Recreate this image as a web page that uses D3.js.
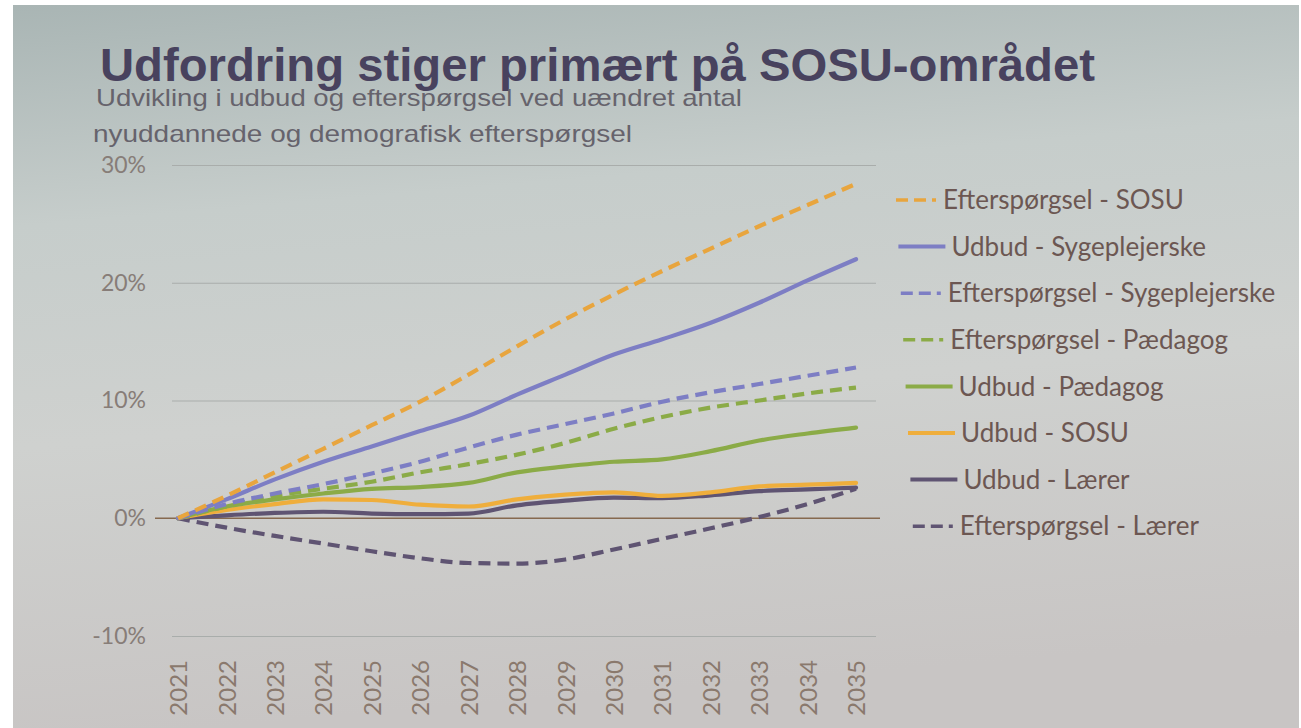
<!DOCTYPE html>
<html lang="da">
<head>
<meta charset="UTF-8">
<title>Udfordring stiger primært på SOSU-området</title>
<style>
  body { margin: 0; background: #fff; }
  .tick text { font-family: Lato, "DejaVu Sans", sans-serif; }
</style>
</head>
<body>
<script src="https://d3js.org/d3.v7.min.js"></script>
<div id="chart"></div>
<script>
  // values (percent change since 2021)
  var years = ["2021","2022","2023","2024","2025","2026","2027","2028","2029","2030","2031","2032","2033","2034","2035"]
  var yTicks = [-10, 0, 10, 20, 30]

  var eftSOSU = [0, 1.9, 3.9, 5.9, 7.9, 9.9, 12.2, 14.6, 16.9, 19.0, 21.0, 22.9, 24.8, 26.6, 28.4]
  var udbSyg  = [0, 1.6, 3.3, 4.8, 6.1, 7.4, 8.7, 10.5, 12.2, 13.9, 15.2, 16.6, 18.3, 20.2, 22.0]
  var eftSyg  = [0, 1.2, 2.1, 2.9, 3.8, 4.8, 6.0, 7.1, 8.0, 8.9, 9.9, 10.7, 11.4, 12.1, 12.8]
  var eftPaed = [0, 1.0, 1.9, 2.5, 3.1, 3.9, 4.6, 5.4, 6.4, 7.6, 8.6, 9.4, 10.0, 10.6, 11.1]
  var udbPaed = [0, 1.0, 1.6, 2.1, 2.5, 2.65, 3.0, 3.9, 4.4, 4.8, 5.0, 5.7, 6.6, 7.2, 7.7]
  var udbSOSU = [0, 0.7, 1.2, 1.6, 1.55, 1.15, 1.0, 1.6, 2.0, 2.2, 1.9, 2.2, 2.7, 2.85, 3.0]
  var udbLaer = [0, 0.25, 0.45, 0.55, 0.4, 0.35, 0.4, 1.1, 1.5, 1.75, 1.7, 1.95, 2.3, 2.45, 2.6]
  var eftLaer = [0, -0.8, -1.5, -2.15, -2.8, -3.4, -3.8, -3.85, -3.5, -2.65, -1.75, -0.85, 0.1, 1.2, 2.5]

  var names = ["Efterspørgsel - SOSU", "Udbud - Sygeplejerske", "Efterspørgsel - Sygeplejerske",
               "Efterspørgsel - Pædagog", "Udbud - Pædagog", "Udbud - SOSU", "Udbud - Lærer", "Efterspørgsel - Lærer"]
  var values = [eftSOSU, udbSyg, eftSyg, eftPaed, udbPaed, udbSOSU, udbLaer, eftLaer]
  var colors = ["#e8a53e", "#7d7ec4", "#7d7ec4", "#8bab47", "#8bab47", "#efae3c", "#5f5472", "#5f5472"]
  var dashed = [true, false, true, true, false, false, false, true]

  var width = 1301, height = 728
  var svg = d3.select("#chart").append("svg")
    .attr("width", width)
    .attr("height", height)

  // projected-slide background
  var grad = svg.append("defs").append("linearGradient")
    .attr("id", "bg").attr("x1", 0).attr("y1", 0).attr("x2", 0.15).attr("y2", 1)
  grad.append("stop").attr("offset", "0%").attr("stop-color", "#a9b5b4")
  grad.append("stop").attr("offset", "30%").attr("stop-color", "#c6cdcb")
  grad.append("stop").attr("offset", "60%").attr("stop-color", "#cfd1cf")
  grad.append("stop").attr("offset", "100%").attr("stop-color", "#c8c5c4")
  svg.append("rect")
    .attr("x", 13).attr("y", 5)
    .attr("width", width - 15).attr("height", height - 5)
    .attr("fill", "url(#bg)")

  var xScale = d3.scalePoint().domain(years).range([178, 856])
  var yScale = d3.scaleLinear().domain([-10, 30]).range([636, 165])

  // gridlines + y labels
  var yAxis = d3.axisLeft(yScale).tickValues(yTicks).tickSize(-(876 - 172)).tickPadding(26)
    .tickFormat(function(d){ return d + "%" })
  var gy = svg.append("g").attr("transform", "translate(172,0)").call(yAxis)
  gy.select(".domain").remove()
  gy.selectAll(".tick line")
    .attr("stroke", "#a9adab")
    .attr("stroke-width", 1.2)
    .attr("opacity", function(d){ return d == 0 ? 0 : 1 })
  gy.selectAll(".tick text")
    .attr("fill", "#877d78")
    .style("font-size", "23px")

  // x labels, vertical
  var xAxis = d3.axisBottom(xScale).tickSize(0)
  var gx = svg.append("g").attr("transform", "translate(0,650)").call(xAxis)
  gx.select(".domain").remove()
  gx.selectAll(".tick text")
    .attr("transform", "rotate(-90)")
    .attr("x", -10)
    .attr("y", 0)
    .attr("dy", "0.36em")
    .style("text-anchor", "end")
    .style("font-size", "24px")
    .attr("fill", "#8a796d")

  // zero line
  svg.append("line")
    .attr("x1", 155).attr("x2", 880)
    .attr("y1", yScale(0)).attr("y2", yScale(0))
    .attr("stroke", "#86694f")
    .attr("stroke-width", 1.6)

  var line = d3.line()
    .x(function(d, i){ return xScale(years[i]) })
    .y(function(d){ return yScale(d) })
    .curve(d3.curveMonotoneX)

  // draw bottom of legend first so the top entries sit on top
  for (var i = values.length - 1; i >= 0; i--) {
    svg.append("path")
      .attr("d", line(values[i]))
      .attr("fill", "none")
      .attr("stroke", colors[i])
      .attr("stroke-width", 4.2)
      .attr("stroke-linecap", dashed[i] ? "butt" : "round")
      .attr("stroke-dasharray", dashed[i] ? "12,7" : null)
  }

  // legend
  var legend = svg.append("g").attr("transform", "translate(896,200)")
  names.forEach(function(name, i){
    var row = legend.append("g").attr("transform", "translate(" + (i * 2.4) + "," + (i * 46.6) + ")")
    if (dashed[i]) {
      row.append("line")
        .attr("x1", 0).attr("x2", 40).attr("y1", 0).attr("y2", 0)
        .attr("stroke", colors[i]).attr("stroke-width", 3.5)
        .attr("stroke-dasharray", "12,6")
      row.append("text")
        .attr("x", 47).attr("dy", "0.35em")
        .text(name)
    } else {
      row.append("line")
        .attr("x1", 0).attr("x2", 47).attr("y1", 0).attr("y2", 0)
        .attr("stroke", colors[i]).attr("stroke-width", 4)
      row.append("text")
        .attr("x", 53).attr("dy", "0.35em")
        .text(name)
    }
  })
  legend.selectAll("text")
    .style("font-family", "Lato, sans-serif")
    .style("font-size", "26px")
    .attr("fill", "#6c5752")

  // title and subtitle
  svg.append("text")
    .attr("x", 100).attr("y", 81)
    .attr("textLength", 995)
    .attr("lengthAdjust", "spacingAndGlyphs")
    .style("font-family", "'Liberation Sans', Arial, sans-serif")
    .style("font-weight", "bold")
    .style("font-size", "46px")
    .attr("fill", "#48425e")
    .text("Udfordring stiger primært på SOSU-området")

  var sub = svg.append("text")
    .style("font-family", "'Liberation Sans', Arial, sans-serif")
    .style("font-size", "24px")
    .attr("fill", "#66636c")
  sub.append("tspan").attr("x", 96).attr("y", 106)
    .attr("textLength", 646).attr("lengthAdjust", "spacingAndGlyphs")
    .text("Udvikling i udbud og efterspørgsel ved uændret antal")
  sub.append("tspan").attr("x", 93).attr("y", 142)
    .attr("textLength", 539).attr("lengthAdjust", "spacingAndGlyphs")
    .text("nyuddannede og demografisk efterspørgsel")
</script>
</body>
</html>
